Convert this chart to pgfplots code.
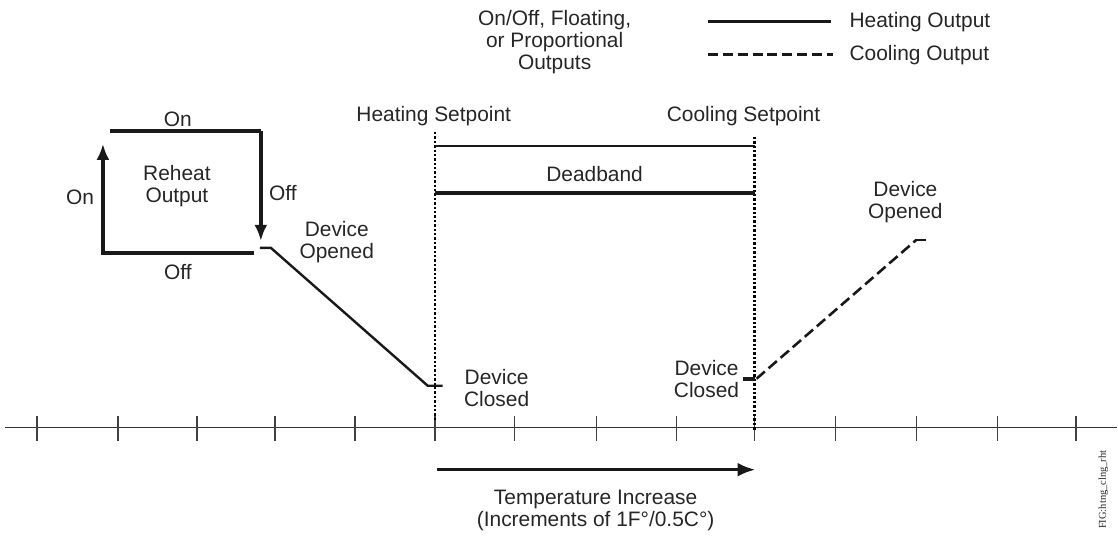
\documentclass[border=0pt]{standalone}
\usepackage{pgfplots}
\pgfplotsset{compat=1.18}
\usepackage{fontspec}
\setmainfont{Liberation Sans}
\newfontfamily\seriffont{Liberation Serif}
\usetikzlibrary{arrows.meta}
\tikzset{lbl/.style={font=\fontsize{21}{24}\selectfont, text=black!85, inner sep=0pt}}
\begin{document}
\fontsize{21}{24}\selectfont
\begin{tikzpicture}
\begin{axis}[width=1118bp, height=538bp, scale only axis,
  xmin=0, xmax=1118, ymin=0, ymax=538, y dir=reverse,
  axis lines=none, clip=false]
% frame for bounding box
\addplot[draw=none] coordinates {(0,0) (1118,538)};
% temperature axis
\addplot[black!80, line width=1.5bp] coordinates {(5,428) (1118,428)};
\foreach \x in {37,118,197,275,355,435,515,597,677,755,836,917,998,1077} {
  \edef\temp{\noexpand\addplot[black!75, line width=1.6bp] coordinates {(\x,416) (\x,441)};}
  \temp
}
% setpoint dotted lines
\addplot[black, line width=2.4bp, dash pattern=on 2.4bp off 2bp] coordinates {(435,132) (435,420)};
\addplot[black, line width=2.4bp, dash pattern=on 2.4bp off 2bp] coordinates {(755,137) (755,430)};
% deadband lines
\addplot[black!90, line width=2.6bp] coordinates {(435,146) (755,146)};
\addplot[black!90, line width=3.4bp] coordinates {(435,193) (755,193)};
% reheat output box
\addplot[black!90, line width=3.6bp] coordinates {(110,131) (261,131)};
\addplot[black!90, line width=3.6bp, -{Latex[length=16bp,width=13bp]}] coordinates {(261,131) (261,241)};
\addplot[black!90, line width=3.6bp] coordinates {(254,253) (103,253)};
\addplot[black!90, line width=3.6bp, -{Latex[length=16bp,width=13bp]}] coordinates {(103,254.8) (103,144)};
% heating output
\addplot[black!90, line width=2.4bp] coordinates {(260,248) (271,248) (428,386) (443,386)};
% cooling output
\addplot[black!90, line width=4bp] coordinates {(743,379) (755,379)};
\addplot[black!90, line width=2.6bp, dash pattern=on 11bp off 5bp] coordinates {(757,379) (917,240)};
\addplot[black!90, line width=2.6bp] coordinates {(917,240) (927,240)};
% temperature increase arrow
\addplot[black!90, line width=3.4bp, -{Latex[length=18bp,width=14bp]}] coordinates {(437,470) (756,470)};
% legend lines
\addplot[black!90, line width=3bp] coordinates {(708,22) (832,22)};
\addplot[black!90, line width=3bp, dash pattern=on 10bp off 5bp] coordinates {(708,55) (834,55)};
% texts
\node[lbl, anchor=base west] at (axis cs:850,28) {Heating Output};
\node[lbl, anchor=base west] at (axis cs:850,61) {Cooling Output};
\node[lbl, align=center] at (axis cs:555,42) {On/Off, Floating,\\[-2pt]or Proportional\\[-2pt]Outputs};
\node[lbl] at (axis cs:434,116) {Heating Setpoint};
\node[lbl] at (axis cs:744,116) {Cooling Setpoint};
\node[lbl] at (axis cs:595,174) {Deadband};
\node[lbl] at (axis cs:178,119) {On};
\node[lbl] at (axis cs:80,197) {On};
\node[lbl, align=center] at (axis cs:177,186) {Reheat\\[-2pt]Output};
\node[lbl] at (axis cs:283,193) {Off};
\node[lbl] at (axis cs:178,272) {Off};
\node[lbl, align=center] at (axis cs:337,242) {Device\\[-2pt]Opened};
\node[lbl, align=center] at (axis cs:497,388) {Device\\[-2pt]Closed};
\node[lbl, align=center] at (axis cs:707,379) {Device\\[-2pt]Closed};
\node[lbl, align=center] at (axis cs:906,202) {Device\\[-2pt]Opened};
\node[lbl, align=center] at (axis cs:596,511) {Temperature Increase\\[-2pt](Increments of 1F°/0.5C°)};
\node[rotate=90, inner sep=0pt, text=black!85, font=\seriffont\fontsize{10.5}{12}\selectfont] at (axis cs:1104,490) {FIG:htng\_clng\_rht};
\end{axis}
\end{tikzpicture}
\end{document}
